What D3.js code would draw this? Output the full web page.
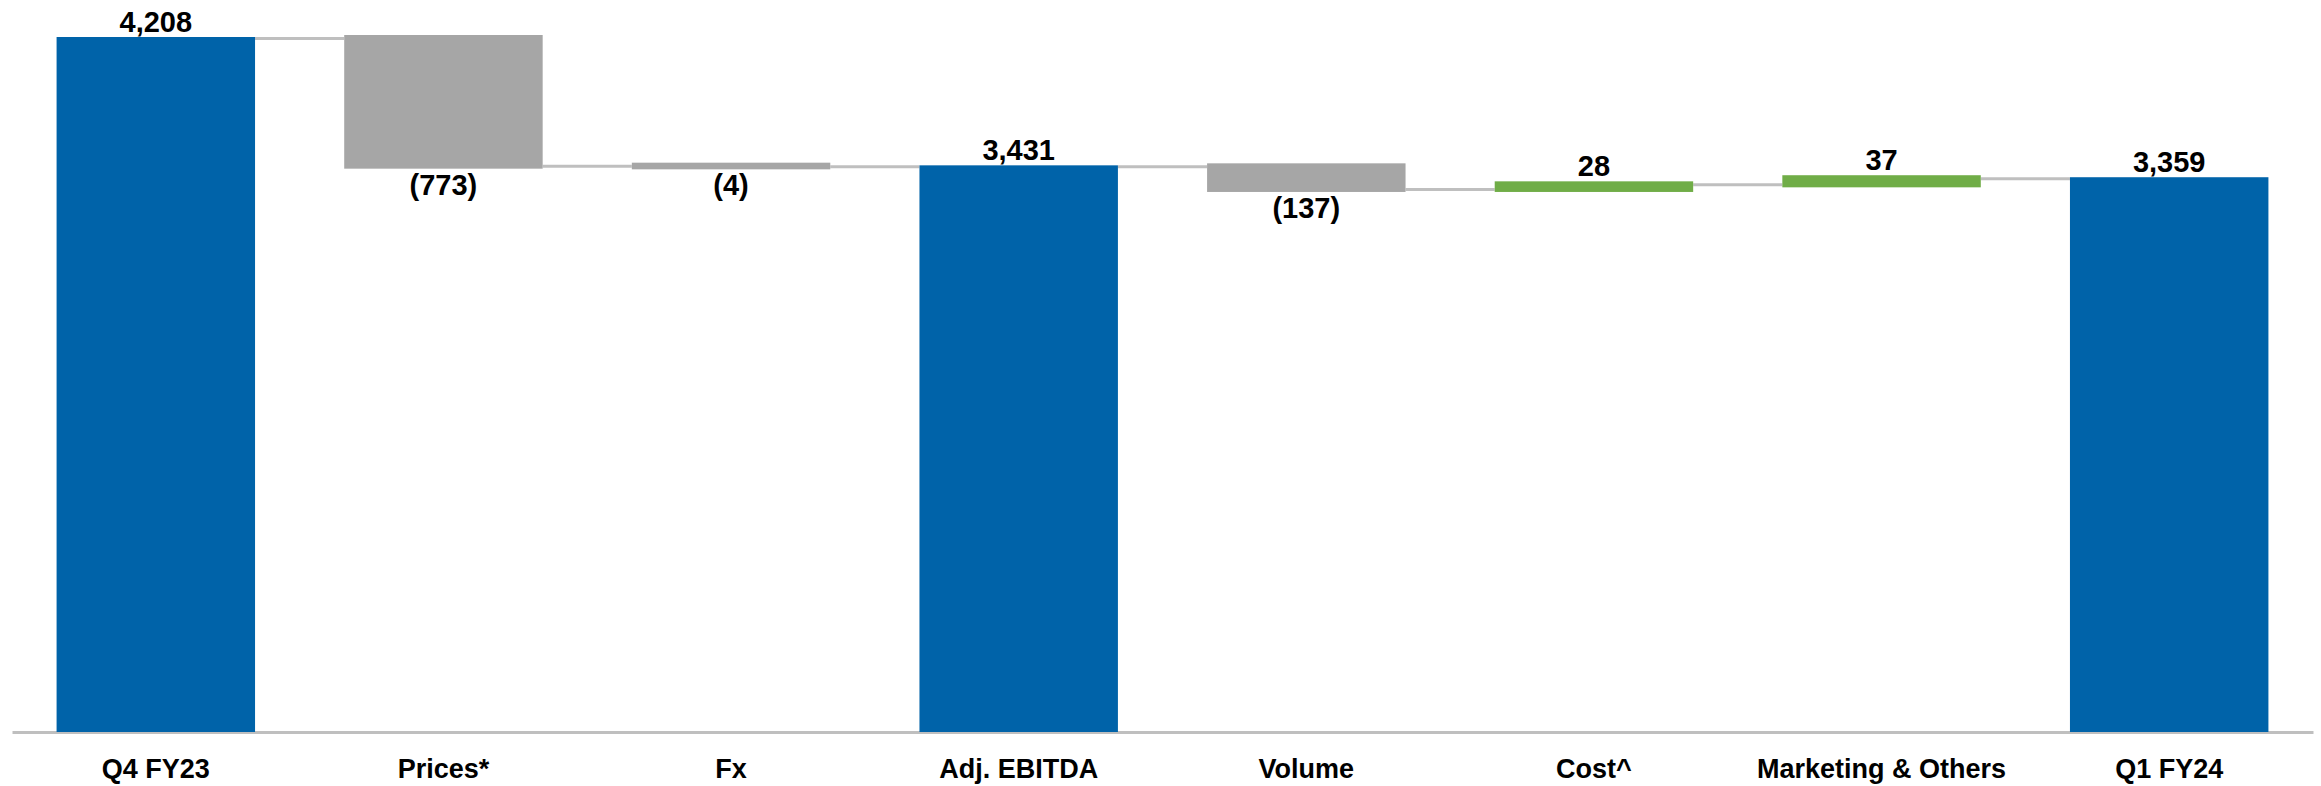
<!DOCTYPE html>
<html>
<head>
<meta charset="utf-8">
<script src="https://cdn.jsdelivr.net/npm/d3@7/dist/d3.min.js"></script>
<style>
  body { margin: 0; background: #FFFFFF; }
  svg text { font-family: "Liberation Sans", Arial, sans-serif; font-weight: bold; fill: #000000; }
</style>
</head>
<body>
<svg></svg>
<script>
//--Data
const categories = ["Q4 FY23", "Prices*", "Fx", "Adj. EBITDA", "Volume", "Cost^", "Marketing & Others", "Q1 FY24"];
const values = [4208, -773, -4, 3431, -137, 28, 37, 3359];
const kinds = ["total", "delta", "delta", "total", "delta", "delta", "delta", "total"];

//--Canvas
const canvas = {
  width: 2321,
  height: 786,
  baseline: 732,
  top: 37,
  pad: 2,
  color_total: "#0063A9",
  color_down: "#A6A6A6",
  color_up: "#70AD47",
  color_line: "#BFBFBF"
};

//Build running levels for the waterfall
let level = 0;
const steps = categories.map((c, i) => {
  let start, end;
  if (kinds[i] === "total") { start = 0; end = values[i]; }
  else { start = level; end = level + values[i]; }
  level = end;
  return { cat: c, value: values[i], kind: kinds[i], start: start, end: end };
});

const x = d3.scaleBand()
  .domain(categories)
  .range([12, 2313])
  .paddingInner(0.31)
  .paddingOuter(0.155);

const y = d3.scaleLinear()
  .domain([0, d3.max(values)])
  .range([canvas.baseline, canvas.top]);

const root = d3.select("svg")
  .attr("width", canvas.width)
  .attr("height", canvas.height);

//--Axis (its domain path is the baseline)
const axis = root.append("g")
  .attr("transform", "translate(0," + canvas.baseline + ")")
  .call(d3.axisBottom(x).tickSize(0).tickPadding(27));
axis.select(".domain")
  .attr("stroke", canvas.color_line)
  .attr("stroke-width", 3);
axis.selectAll("text")
  .style("font-size", "27px");

//--Connectors
root.append("g")
  .selectAll("line")
  .data(steps.slice(0, -1))
  .join("line")
  .attr("x1", (d) => x(d.cat) + x.bandwidth())
  .attr("x2", (d, i) => x(categories[i + 1]))
  .attr("y1", (d) => y(d.end) + 1.5)
  .attr("y2", (d) => y(d.end) + 1.5)
  .attr("stroke", canvas.color_line)
  .attr("stroke-width", 3);

//--Bars
const fillOf = (d) => d.kind === "total" ? canvas.color_total : (d.value < 0 ? canvas.color_down : canvas.color_up);
root.append("g")
  .selectAll("rect")
  .data(steps)
  .join("rect")
  .attr("x", (d) => x(d.cat))
  .attr("width", x.bandwidth())
  .attr("y", (d) => Math.min(y(d.start), y(d.end)) - (d.kind === "total" ? 0 : canvas.pad))
  .attr("height", (d) => Math.abs(y(d.start) - y(d.end)) + (d.kind === "total" ? 0 : 2 * canvas.pad + 2))
  .attr("fill", fillOf);

//--Value labels
const fmt = d3.format(",");
root.append("g")
  .selectAll("text")
  .data(steps)
  .join("text")
  .attr("x", (d) => x(d.cat) + x.bandwidth() / 2)
  .attr("y", (d) => d.value < 0
    ? Math.max(y(d.start), y(d.end)) + canvas.pad + 28
    : Math.min(y(d.start), y(d.end)) - (d.kind === "total" ? 5 : canvas.pad + 5))
  .attr("text-anchor", "middle")
  .style("font-size", "29px")
  .text((d) => d.value < 0 ? "(" + fmt(-d.value) + ")" : fmt(d.value));
</script>
</body>
</html>
